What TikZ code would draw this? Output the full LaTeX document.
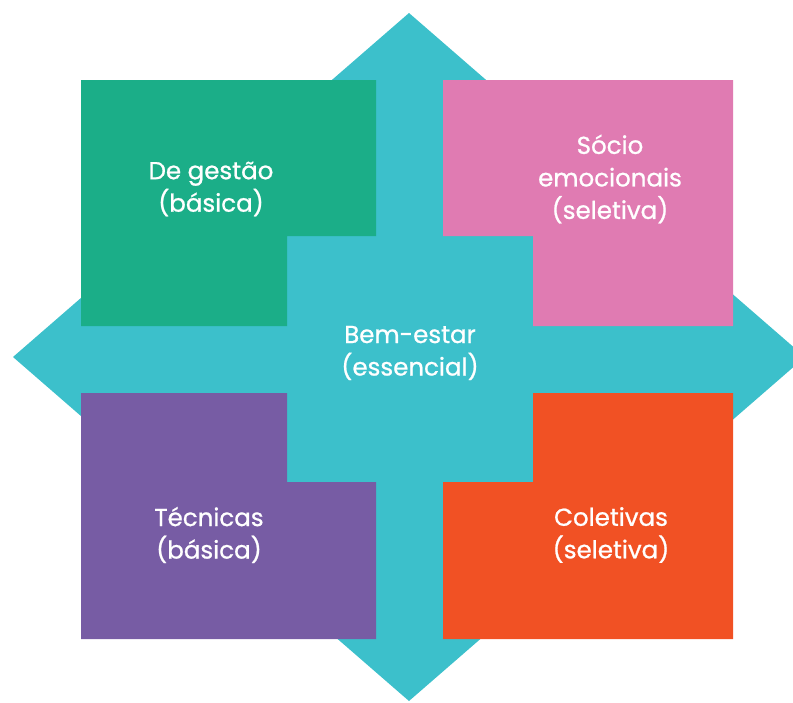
\documentclass[tikz,border=0pt]{standalone}
\usepackage{fontspec}
\setmainfont{Poppins}
\newfontfamily\lblfont[FakeBold=0.9]{Poppins}
\usepackage{xcolor}
\definecolor{turq}{HTML}{3CC0CB}
\definecolor{gestgreen}{HTML}{1BAE88}
\definecolor{socpink}{HTML}{E07BB2}
\definecolor{tecpurple}{HTML}{775CA4}
\definecolor{colorange}{HTML}{F15124}

\begin{document}
\begin{tikzpicture}[x=1pt,y=-1pt,
  lbl/.style={text=white, align=center, inner sep=0pt, font=\lblfont\fontsize{24.5}{32.5}\selectfont}]
\useasboundingbox (0,0) rectangle (793,702);
% big diamond behind
\fill[turq] (409,13) -- (805,357) -- (409,701) -- (13,357) -- cycle;
% four corner blocks, each with a notch towards the centre
\fill[gestgreen] (81,80) -- (376,80) -- (376,236) -- (287,236) -- (287,326) -- (81,326) -- cycle;
\fill[socpink] (443,80) -- (733,80) -- (733,326) -- (533,326) -- (533,236) -- (443,236) -- cycle;
\fill[tecpurple] (81,393) -- (287,393) -- (287,482) -- (376,482) -- (376,639) -- (81,639) -- cycle;
\fill[colorange] (533,393) -- (733,393) -- (733,639) -- (443,639) -- (443,482) -- (533,482) -- cycle;
%\draw (409,357) circle (2pt);
\node[lbl] (gestao) at (211,189) {De gestão\\(básica)};
\node[lbl] (socio) at (610,179) {Sócio\\emocionais\\(seletiva)};
\node[lbl] (bemestar) at (410,353) {Bem-estar\\(essencial)};
\node[lbl] (tecnicas) at (209,535) {Técnicas\\(básica)};
\node[lbl] (coletivas) at (611,535) {Coletivas\\(seletiva)};
\end{tikzpicture}
\end{document}
